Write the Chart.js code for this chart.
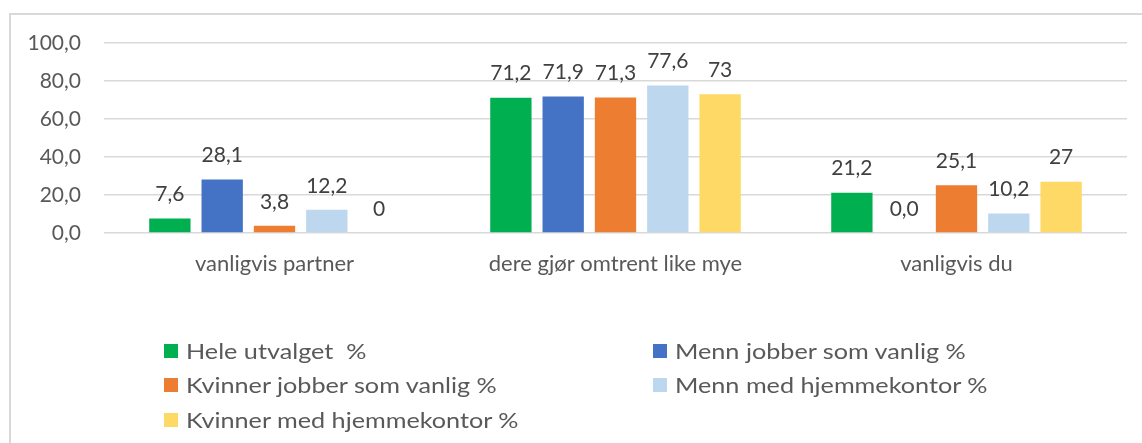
<!DOCTYPE html>
<html>
<head>
<meta charset="utf-8">
<script src="https://cdn.jsdelivr.net/npm/chart.js@4/dist/chart.umd.min.js"></script>
<style>
  body { margin: 0; background: #fff; }
  #wrap { position: relative; width: 1142px; height: 443px; overflow: hidden; }
  #frame { position: absolute; left: 9px; top: 13px; width: 1140px; height: 440px; border: 2px solid #d9d9d9; box-sizing: border-box; }
  #c { position: absolute; left: 0; top: 0; }
  .leg { position: absolute; font-family: Lato, sans-serif; font-size: 21px; color: #595959; white-space: pre; line-height: 24px; }
  .leg i { position: absolute; left: 0; top: 5px; width: 14px; height: 14px; }
  .leg span { position: absolute; left: 22px; top: 0; transform: scaleX(1.2); transform-origin: left center; }
</style>
</head>
<body>
<div id="wrap">
  <div id="frame"></div>
  <canvas id="c" width="1142" height="443"></canvas>
  <div id="legend"></div>
</div>
<script>
const categories = ["vanligvis partner", "dere gjør omtrent like mye", "vanligvis du"];
const seriesNames = ["Hele utvalget  %", "Menn jobber som vanlig %", "Kvinner jobber som vanlig %", "Menn med hjemmekontor %", "Kvinner med hjemmekontor %"];
const heleUtvalget = [7.6, 71.2, 21.2];
const mennVanlig = [28.1, 71.9, 0.0];
const kvinnerVanlig = [3.8, 71.3, 25.1];
const mennHjemme = [12.2, 77.6, 10.2];
const kvinnerHjemme = [0, 73, 27];
const labelDecimals = [1, 1, 1, 1, null];
const yTicks = [0, 20, 40, 60, 80, 100];
const colors = ["#00B050", "#4472C4", "#ED7D31", "#BDD7EE", "#FFD966"];

const seriesValues = [heleUtvalget, mennVanlig, kvinnerVanlig, mennHjemme, kvinnerHjemme];

function fmt(v, d) {
  if (d === null) return String(v);
  return v.toFixed(d).replace(".", ",");
}

// draws the value above each bar
const valueLabels = {
  id: "valueLabels",
  afterDatasetsDraw(chart) {
    const ctx = chart.ctx;
    ctx.save();
    ctx.font = "21px Lato, sans-serif";
    ctx.fillStyle = "#404040";
    ctx.textAlign = "center";
    ctx.textBaseline = "middle";
    chart.data.datasets.forEach((ds, i) => {
      const meta = chart.getDatasetMeta(i);
      meta.data.forEach((bar, j) => {
        ctx.fillText(fmt(ds.data[j], labelDecimals[i]), bar.x, bar.y - 24);
      });
    });
    ctx.restore();
  }
};

new Chart(document.getElementById("c"), {
  type: "bar",
  data: {
    labels: categories,
    datasets: seriesNames.map((name, i) => ({
      label: name,
      data: seriesValues[i],
      backgroundColor: colors[i],
      borderWidth: 0,
      categoryPercentage: 0.767,
      barPercentage: 0.79
    }))
  },
  options: {
    responsive: false,
    animation: false,
    layout: { padding: { top: 43, right: 15, left: 0, bottom: 0 } },
    plugins: {
      legend: { display: false },
      tooltip: { enabled: false }
    },
    scales: {
      x: {
        grid: { display: false, drawTicks: false },
        border: { display: false },
        ticks: { color: "#595959", font: { family: "Lato", size: 22 }, padding: 18 },
        afterFit(scale) { scale.height = 210; }
      },
      y: {
        min: 0,
        max: 100,
        afterBuildTicks(scale) { scale.ticks = yTicks.map(v => ({ value: v })); },
        grid: { color: "#d9d9d9", lineWidth: 1.5, drawTicks: false },
        border: { display: false },
        ticks: {
          color: "#595959",
          font: { family: "Lato", size: 21 },
          padding: 23,
          callback: v => fmt(v, 1)
        },
        afterFit(scale) { scale.width = 104; }
      }
    }
  },
  plugins: [valueLabels]
});

// legend in two columns
const legendPos = [[164, 339], [653, 339], [164, 373], [653, 373], [164, 408]];
const legendEl = document.getElementById("legend");
seriesNames.forEach((name, i) => {
  const d = document.createElement("div");
  d.className = "leg";
  d.style.left = legendPos[i][0] + "px";
  d.style.top = legendPos[i][1] + "px";
  d.innerHTML = '<i style="background:' + colors[i] + '"></i><span></span>';
  d.querySelector("span").textContent = name;
  legendEl.appendChild(d);
});
</script>
</body>
</html>
